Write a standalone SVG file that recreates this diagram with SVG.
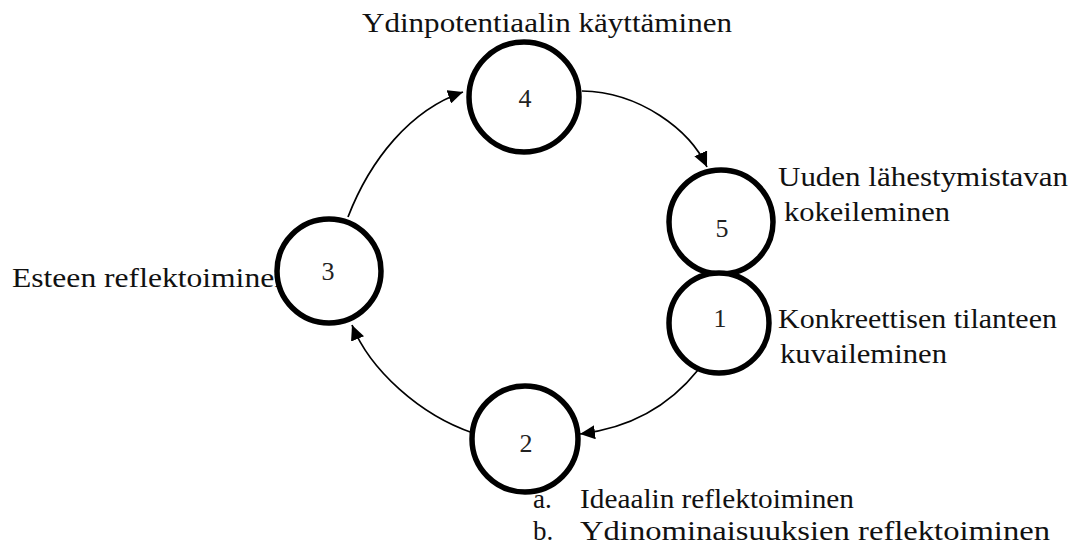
<svg xmlns="http://www.w3.org/2000/svg" width="1075" height="549" viewBox="0 0 1075 549">
<defs>
<style>
.lbl{font-family:"Liberation Serif","Times New Roman",serif;font-size:27px;fill:#111;}
.num{font-family:"Liberation Serif","Times New Roman",serif;font-size:26px;fill:#222;text-anchor:middle;}
.node{fill:#fff;stroke:#000;stroke-width:5.5;}
.conn{fill:none;stroke:#000;stroke-width:1.7;}
</style>
<marker id="arr" markerUnits="userSpaceOnUse" markerWidth="16" markerHeight="14" refX="15" refY="7" orient="auto">
<path d="M0,0 L15,7 L0,14 Z" fill="#000"/>
</marker>
</defs>
<rect width="1075" height="549" fill="#fff"/>
<g id="labels">
<text class="lbl" x="362" y="32" textLength="370" lengthAdjust="spacingAndGlyphs">Ydinpotentiaalin käyttäminen</text>
<text class="lbl" x="778" y="186" textLength="290" lengthAdjust="spacingAndGlyphs">Uuden lähestymistavan</text>
<text class="lbl" x="784" y="221" textLength="166" lengthAdjust="spacingAndGlyphs">kokeileminen</text>
<text class="lbl" x="778" y="328" textLength="279" lengthAdjust="spacingAndGlyphs">Konkreettisen tilanteen</text>
<text class="lbl" x="780" y="363" textLength="167" lengthAdjust="spacingAndGlyphs">kuvaileminen</text>
<text class="lbl" x="12" y="287" textLength="278" lengthAdjust="spacingAndGlyphs">Esteen reflektoiminen</text>
<text class="lbl" x="533" y="508">a.</text>
<text class="lbl" x="580" y="508" textLength="274" lengthAdjust="spacingAndGlyphs">Ideaalin reflektoiminen</text>
<text class="lbl" x="533" y="540">b.</text>
<text class="lbl" x="580" y="540" textLength="470" lengthAdjust="spacingAndGlyphs">Ydinominaisuuksien reflektoiminen</text>
</g>
<g id="connectors">
<path class="conn" d="M582,91 C640,92 690,130 707,167" marker-end="url(#arr)"/>
<path class="conn" d="M698,370 C670,405 630,428 580,434" marker-end="url(#arr)"/>
<path class="conn" d="M473,433 C420,415 370,370 352,325" marker-end="url(#arr)"/>
<path class="conn" d="M348,217 C370,160 410,110 463,92" marker-end="url(#arr)"/>
</g>
<g id="node4"><circle class="node" cx="524" cy="97" r="55"/><text class="num" x="525" y="107">4</text></g>
<g id="node5"><circle class="node" cx="721" cy="222" r="52"/><text class="num" x="722" y="237">5</text></g>
<g id="node1"><circle class="node" cx="719" cy="323" r="50"/><text class="num" x="720" y="327">1</text></g>
<g id="node3"><circle class="node" cx="329" cy="271" r="52"/><text class="num" x="328" y="280">3</text></g>
<g id="node2"><circle class="node" cx="525" cy="439" r="53"/><text class="num" x="526" y="452">2</text></g>
</svg>
